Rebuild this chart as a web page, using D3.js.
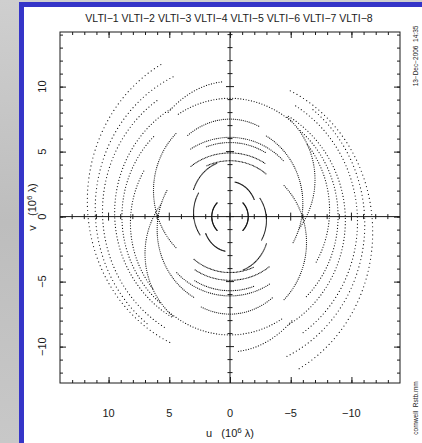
<!DOCTYPE html>
<html>
<head>
<meta charset="utf-8">
<script src="https://cdn.jsdelivr.net/npm/d3@7/dist/d3.min.js"></script>
<style>
  html, body { margin: 0; padding: 0; overflow: hidden; background: #c2c2c2; }
  svg { display: block; }
</style>
</head>
<body>
<svg id="chart" width="422" height="443"></svg>
<script>
// Stations in the array
const stations = ["VLTI−1", "VLTI−2", "VLTI−3", "VLTI−4", "VLTI−5", "VLTI−6", "VLTI−7", "VLTI−8"];

// Axis tick labels (units of 10^6 wavelengths)
const uTickValues = [10, 5, 0, -5, -10];
const vTickValues = [10, 5, 0, -5, -10];
const uTickLabels = ["10", "5", "0", "−5", "−10"];
const vTickLabels = ["10", "5", "0", "−5", "−10"];

// Baseline tracks, each an arc of an ellipse centred on the v axis:
//   u = a·sin(h),  v = c + b·cos(h),  h from hStart to hEnd (degrees)
// Every track is also drawn point-mirrored, (−u, −v).
const trackA      = [11.75, 11.1, 10.5,  9.5,  8.9,  6.3,   7.0,  6.0,  8.0,   8.5,  6.3,   6.2,  5.8,  5.0,  2.2,  1.5,  3.0,  3.2,  8.2,  4.6];
const trackB      = [12.0,  11.2, 10.4,  9.3,  8.7,  6.2,   6.5,  6.0, 10.4,   9.1,  7.5,   6.1,  5.7,  4.4,  2.4,  1.5,  3.0,  3.4,  8.0,  4.3];
const trackC      = [ 1.2,   0.6,  0.4,  0.3,  0.0,  2.0,  2.85, -1.0,  0.0,   0.0,  0.0,   0.0,  0.0,  0.5,  0.3,  0.0,  0.3,  0.9, -0.5,  0.0];
const trackHStart = [  29,    25,   35,   31,   45,   45,  -125,   60,    5,   -36,  -22,   -45,  -30,  -35,  -65,   45,   60,   20,   60,  -40];
const trackHEnd   = [ 156,   143,  150,  150,  140,  135,   -42,  150,   40,    31,   34,    32,   20,   40,  -10,  135,  125,   70,  130,   25];

const hourStep = 1.5; // degrees of hour angle between samples

(function draw() {
  const W = 422, H = 443;
  const svg = d3.select("#chart");
  const nb = s => s.replace(/ /g, "\u00a0");

  // Backdrop: grey surround, blue frame, white page
  const defs = svg.append("defs");
  const grad = defs.append("linearGradient").attr("id", "bg").attr("x1", 0).attr("x2", 0).attr("y1", 0).attr("y2", 1);
  grad.append("stop").attr("offset", "0%").attr("stop-color", "#cfcfcf");
  grad.append("stop").attr("offset", "50%").attr("stop-color", "#bdbdbd");
  grad.append("stop").attr("offset", "100%").attr("stop-color", "#c8c8c8");
  svg.append("rect").attr("width", W).attr("height", H).attr("fill", "url(#bg)");
  svg.append("rect").attr("x", 19).attr("y", 2).attr("width", W).attr("height", H).attr("fill", "#3535c8");
  svg.append("rect").attr("x", 24).attr("y", 7).attr("width", W).attr("height", H).attr("fill", "#ffffff");

  const pL = 60, pR = 400, pT = 32, pB = 383;
  const x = d3.scaleLinear().domain([14, -14]).range([pL, pR]);
  const y = d3.scaleLinear().domain([14.2, -12.8]).range([pT, pB]);

  const font = "'Liberation Sans', Arial, sans-serif";
  const ink = "#1a1a1a";

  // Title listing the stations
  svg.append("text")
    .attr("x", 229).attr("y", 22)
    .attr("text-anchor", "middle")
    .attr("font-family", font).attr("font-size", 10.5)
    .attr("fill", ink)
    .text(nb(stations.join(" ")));

  // Frame
  svg.append("rect")
    .attr("x", pL).attr("y", pT)
    .attr("width", pR - pL).attr("height", pB - pT)
    .attr("fill", "none").attr("stroke", ink).attr("stroke-width", 1);

  const uMinor = d3.range(-13, 14, 1);
  const vMinor = d3.range(-12, 15, 1);

  function styleAxis(g) {
    g.select(".domain").remove();
    g.selectAll("line").attr("stroke", ink).attr("stroke-width", 1);
    g.selectAll("text").remove();
  }

  // Inward ticks on the four sides (negative tick size points into the plot)
  const sides = [
    [() => d3.axisBottom(x), pB, "x"],
    [() => d3.axisTop(x), pT, "x"],
    [() => d3.axisLeft(y), pL, "y"],
    [() => d3.axisRight(y), pR, "y"]
  ];
  sides.forEach(([mk, pos, dir]) => {
    const minorVals = dir === "x" ? uMinor : vMinor;
    const majorVals = dir === "x" ? uTickValues : vTickValues;
    const tr = dir === "x" ? `translate(0,${pos})` : `translate(${pos},0)`;
    svg.append("g").attr("transform", tr)
      .call(mk().tickValues(minorVals).tickSize(-3))
      .call(styleAxis);
    svg.append("g").attr("transform", tr)
      .call(mk().tickValues(majorVals).tickSize(-6))
      .call(styleAxis);
  });

  // Central cross through the origin, ticked on both sides
  svg.append("line").attr("x1", x(0)).attr("x2", x(0)).attr("y1", pT).attr("y2", pB)
    .attr("stroke", ink).attr("stroke-width", 1);
  svg.append("line").attr("x1", pL).attr("x2", pR).attr("y1", y(0)).attr("y2", y(0))
    .attr("stroke", ink).attr("stroke-width", 1);
  svg.append("g").selectAll("line").data(vMinor).join("line")
    .attr("x1", v => x(0) - (v % 5 === 0 ? 4 : 2.5)).attr("x2", v => x(0) + (v % 5 === 0 ? 4 : 2.5))
    .attr("y1", v => y(v)).attr("y2", v => y(v))
    .attr("stroke", ink).attr("stroke-width", 1);
  svg.append("g").selectAll("line").data(uMinor).join("line")
    .attr("y1", u => y(0) - (u % 5 === 0 ? 4 : 2.5)).attr("y2", u => y(0) + (u % 5 === 0 ? 4 : 2.5))
    .attr("x1", u => x(u)).attr("x2", u => x(u))
    .attr("stroke", ink).attr("stroke-width", 1);

  // Tick labels
  svg.append("g").selectAll("text").data(uTickValues).join("text")
    .attr("x", d => x(d)).attr("y", 417)
    .attr("text-anchor", "middle")
    .attr("font-family", font).attr("font-size", 11).attr("fill", ink)
    .text((d, i) => uTickLabels[i]);
  svg.append("g").selectAll("text").data(vTickValues).join("text")
    .attr("transform", d => `translate(46,${y(d)}) rotate(-90)`)
    .attr("text-anchor", "middle")
    .attr("font-family", font).attr("font-size", 11).attr("fill", ink)
    .text((d, i) => vTickLabels[i]);

  // Axis titles
  const uTitle = svg.append("text").attr("x", 230).attr("y", 437)
    .attr("text-anchor", "middle").attr("font-family", font).attr("font-size", 11).attr("fill", ink);
  uTitle.append("tspan").text(nb("u   (10"));
  uTitle.append("tspan").attr("dy", -4).attr("font-size", 8).text("6");
  uTitle.append("tspan").attr("dy", 4).text(nb(" λ)"));

  const vTitle = svg.append("text").attr("transform", "translate(36,207) rotate(-90)")
    .attr("text-anchor", "middle").attr("font-family", font).attr("font-size", 11).attr("fill", ink);
  vTitle.append("tspan").text(nb("v   (10"));
  vTitle.append("tspan").attr("dy", -4).attr("font-size", 8).text("6");
  vTitle.append("tspan").attr("dy", 4).text(nb(" λ)"));

  // Side annotations
  svg.append("text").attr("transform", "translate(418,56) rotate(-90)")
    .attr("text-anchor", "middle").attr("font-family", font).attr("font-size", 6.5).attr("fill", ink)
    .text(nb("13−Dec−2006  14:35"));
  svg.append("text").attr("transform", "translate(418,408) rotate(-90)")
    .attr("text-anchor", "middle").attr("font-family", font).attr("font-size", 6.5).attr("fill", ink)
    .text(nb("cornwell  Rstb.mm"));

  // uv samples along every track and its mirror
  const points = [];
  trackA.forEach((a, i) => {
    const b = trackB[i], c = trackC[i];
    const h0 = Math.min(trackHStart[i], trackHEnd[i]), h1 = Math.max(trackHStart[i], trackHEnd[i]);
    for (let h = h0; h <= h1 + 1e-9; h += hourStep) {
      const r = h * Math.PI / 180;
      const u = a * Math.sin(r), v = c + b * Math.cos(r);
      points.push([u, v], [-u, -v]);
    }
  });

  svg.append("g").selectAll("circle").data(points).join("circle")
    .attr("cx", d => x(d[0])).attr("cy", d => y(d[1]))
    .attr("r", 0.6).attr("fill", "#111");
})();
</script>
</body>
</html>
